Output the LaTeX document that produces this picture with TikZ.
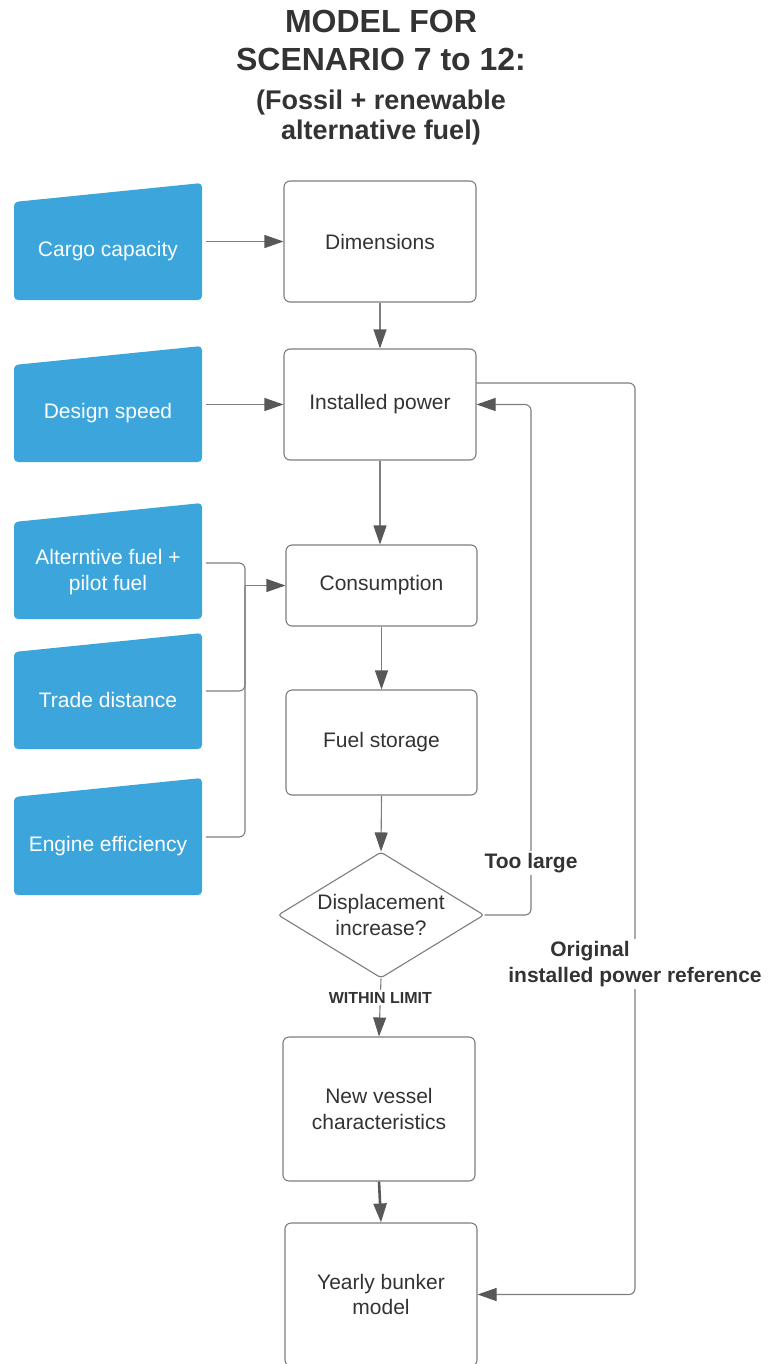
\documentclass[tikz,border=0pt]{standalone}
\usepackage{fontspec}
\setmainfont{Liberation Sans}
\usetikzlibrary{shapes.geometric,arrows.meta}
\definecolor{inblue}{RGB}{59,165,220}
\definecolor{linegray}{RGB}{125,125,125}
\definecolor{tipgray}{RGB}{88,88,88}
\definecolor{boxgray}{RGB}{125,125,125}
\definecolor{txtgray}{RGB}{51,51,51}

\begin{document}
\begin{tikzpicture}[x=1pt,y=-1pt,
    box/.style={draw=boxgray,line width=1.1pt,rounded corners=6pt,fill=white,text=txtgray,align=center,
      font=\fontsize{21}{25.5}\selectfont,minimum width=192pt,inner sep=0pt},
    decision/.style={diamond,draw=boxgray,line width=1.1pt,rounded corners=3pt,fill=white,text=txtgray,align=center,
      font=\fontsize{21}{25.5}\selectfont,minimum width=206pt,minimum height=126pt,inner sep=0pt,aspect=1.63},
    inlabel/.style={text=white,align=center,font=\fontsize{21}{25.5}\selectfont,minimum width=188pt,inner sep=0pt},
    flow/.style={draw=linegray,line width=1.1pt,-{Triangle[length=19pt,width=13pt,color=tipgray]}},
    link/.style={draw=linegray,line width=1.1pt,rounded corners=6pt},
    note/.style={fill=white,text=txtgray,font=\fontsize{21}{25.5}\selectfont\bfseries,align=center,inner sep=2pt}]
    \useasboundingbox (0,0) rectangle (768,1364);
    % Title
    \node[anchor=north,text=txtgray,align=center,inner sep=0pt,font=\fontsize{32}{38}\selectfont\bfseries] (title) at (381,10) {MODEL FOR\\SCENARIO 7 to 12:};
    \node[anchor=north,text=txtgray,align=center,inner sep=0pt,font=\fontsize{27}{30}\selectfont\bfseries] (subtitle) at (381,90) {(Fossil + renewable\\alternative fuel)};
    % Inputs
    \foreach \n/\ytop/\ybot/\ty/\txt in {cargo/183/300/248/{Cargo capacity},speed/346/462/410/{Design speed},
      alt/503/619/569/{Alterntive fuel +\\pilot fuel},trade/633/749/697/{Trade distance},engine/778/895/843/{Engine efficiency}} {
      \fill[inblue,rounded corners=4pt] (14,\ytop+19) -- (202,\ytop) -- (202,\ybot) -- (14,\ybot) -- cycle;
      \node[inlabel] (\n) at (108,\ty+3) {\txt};
    }
    % Process boxes
    \node[box,minimum height=121pt] (dims) at (380,241.5) {Dimensions};
    \node[box,minimum height=111pt] (power) at (380,404.5) {Installed power};
    \node[box,minimum width=191pt,minimum height=81pt] (cons) at (381.5,585.5) {Consumption};
    \node[box,minimum width=191pt,minimum height=105pt] (store) at (381.5,742.5) {Fuel storage};
    \node[decision] (disp) at (381,915) {Displacement\\increase?};
    \node[box,minimum height=144pt] (newv) at (379,1109) {New vessel\\characteristics};
    \node[box,minimum height=143pt] (yearly) at (381,1294.5) {Yearly bunker\\model};
    % Main flow
    \draw[flow,shorten <=4pt] (cargo.east |- dims.west) -- (dims.west);
    \draw[flow,shorten <=4pt] (speed.east |- power.west) -- (power.west);
    \draw[flow] (dims.south) -- (power.north);
    \draw[flow] (power.south) -- (power.south |- cons.north);
    \draw[flow] (cons.south) -- (store.north);
    \draw[flow] (store.south) -- (disp.north);
    \draw[flow] (disp.south) -- node[pos=0.33,fill=white,text=txtgray,inner sep=2pt,font=\fontsize{16}{19}\selectfont\bfseries] (within) {WITHIN LIMIT} (newv.north);
    \draw[flow,draw=tipgray,line width=2.6pt] (newv.south) -- (yearly.north);
    % Merged inputs
    \coordinate (merge) at (245,585.5);
    \draw[link,shorten <=4pt] ([yshift=9pt]alt.east) -| (merge);
    \draw[link,shorten <=4pt] ([yshift=9pt]trade.east) -| (merge);
    \draw[link,shorten <=4pt] ([yshift=9pt]engine.east) -| (merge);
    \draw[flow] (merge) -- (cons.west);
    % Feedback loops
    \coordinate (loopx) at (531,660);
    \draw[flow,rounded corners=6pt] (disp.east) -| (loopx) |- (power.east);
    \node[note] (toolarge) at (531,863) {Too large};
    \coordinate (refx) at (635,900);
    \draw[flow,rounded corners=6pt] ([yshift=21.5pt]power.east) -| (refx) |- (yearly.east);
    \node[note] (reflabel) at (635,964) {Original\rule{90pt}{0pt}\\installed power reference};
\end{tikzpicture}
\end{document}
